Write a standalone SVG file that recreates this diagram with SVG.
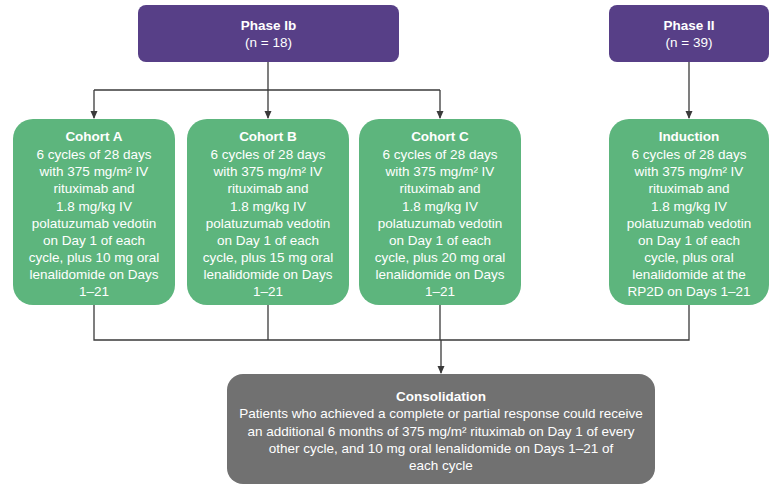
<svg xmlns="http://www.w3.org/2000/svg" width="775" height="486" viewBox="0 0 775 486">
<defs>
<marker id="arr" markerWidth="8" markerHeight="8" refX="7" refY="4" orient="auto" markerUnits="userSpaceOnUse">
<path d="M0,0.5 L8,4 L0,7.5 Z" fill="#3a3a3a"/>
</marker>
<style>
.phase{fill:#573F87;}
.green{fill:#5DB57D;}
.gray{fill:#717171;}
text{font-family:"Liberation Sans",Arial,sans-serif;font-size:13.5px;fill:#ffffff;text-anchor:middle;}
.b{font-weight:bold;}
.ln{fill:none;stroke:#3a3a3a;stroke-width:1.3;}
</style>
</defs>
<rect width="775" height="486" fill="#ffffff"/>
<g id="connectors">
<path class="ln" d="M268,62 V90"/>
<path class="ln" d="M94,90 H440"/>
<path class="ln" d="M94,90 V118" marker-end="url(#arr)"/>
<path class="ln" d="M268,90 V118" marker-end="url(#arr)"/>
<path class="ln" d="M440,90 V118" marker-end="url(#arr)"/>
<path class="ln" d="M689,62 V118" marker-end="url(#arr)"/>
<path class="ln" d="M94,305 V340 H689 V305"/>
<path class="ln" d="M268,305 V340"/>
<path class="ln" d="M440,305 V340"/>
<path class="ln" d="M441,340 V373" marker-end="url(#arr)"/>
</g>
<g id="phase1b">
<rect class="phase" x="138" y="5" width="261" height="57" rx="8"/>
<text x="268.5" y="30" class="b">Phase Ib</text>
<text x="268.5" y="47">(n = 18)</text>
</g>
<g id="phase2">
<rect class="phase" x="609" y="5" width="160" height="57" rx="8"/>
<text x="689" y="30" class="b">Phase II</text>
<text x="689" y="47">(n = 39)</text>
</g>
<g id="cohortA">
<rect class="green" x="13" y="119" width="162" height="186" rx="20"/>
<text x="94" y="141" class="b">Cohort A</text>
<text x="94" y="159">6 cycles of 28 days</text>
<text x="94" y="176">with 375 mg/m² IV</text>
<text x="94" y="193">rituximab and</text>
<text x="94" y="211">1.8 mg/kg IV</text>
<text x="94" y="228">polatuzumab vedotin</text>
<text x="94" y="245">on Day 1 of each</text>
<text x="94" y="262">cycle, plus 10 mg oral</text>
<text x="94" y="279">lenalidomide on Days</text>
<text x="94" y="296">1–21</text>
</g>
<g id="cohortB">
<rect class="green" x="187" y="119" width="162" height="186" rx="20"/>
<text x="268" y="141" class="b">Cohort B</text>
<text x="268" y="159">6 cycles of 28 days</text>
<text x="268" y="176">with 375 mg/m² IV</text>
<text x="268" y="193">rituximab and</text>
<text x="268" y="211">1.8 mg/kg IV</text>
<text x="268" y="228">polatuzumab vedotin</text>
<text x="268" y="245">on Day 1 of each</text>
<text x="268" y="262">cycle, plus 15 mg oral</text>
<text x="268" y="279">lenalidomide on Days</text>
<text x="268" y="296">1–21</text>
</g>
<g id="cohortC">
<rect class="green" x="359" y="119" width="162" height="186" rx="20"/>
<text x="440" y="141" class="b">Cohort C</text>
<text x="440" y="159">6 cycles of 28 days</text>
<text x="440" y="176">with 375 mg/m² IV</text>
<text x="440" y="193">rituximab and</text>
<text x="440" y="211">1.8 mg/kg IV</text>
<text x="440" y="228">polatuzumab vedotin</text>
<text x="440" y="245">on Day 1 of each</text>
<text x="440" y="262">cycle, plus 20 mg oral</text>
<text x="440" y="279">lenalidomide on Days</text>
<text x="440" y="296">1–21</text>
</g>
<g id="induction">
<rect class="green" x="609" y="119" width="160" height="186" rx="20"/>
<text x="689" y="141" class="b">Induction</text>
<text x="689" y="159">6 cycles of 28 days</text>
<text x="689" y="176">with 375 mg/m² IV</text>
<text x="689" y="193">rituximab and</text>
<text x="689" y="211">1.8 mg/kg IV</text>
<text x="689" y="228">polatuzumab vedotin</text>
<text x="689" y="245">on Day 1 of each</text>
<text x="689" y="262">cycle, plus oral</text>
<text x="689" y="279">lenalidomide at the</text>
<text x="689" y="296">RP2D on Days 1–21</text>
</g>
<g id="consolidation">
<rect class="gray" x="227" y="374" width="428" height="110" rx="16"/>
<text x="441" y="401" class="b">Consolidation</text>
<text x="441" y="418">Patients who achieved a complete or partial response could receive</text>
<text x="441" y="436">an additional 6 months of 375 mg/m² rituximab on Day 1 of every</text>
<text x="441" y="453">other cycle, and 10 mg oral lenalidomide on Days 1–21 of</text>
<text x="441" y="470">each cycle</text>
</g>
</svg>
